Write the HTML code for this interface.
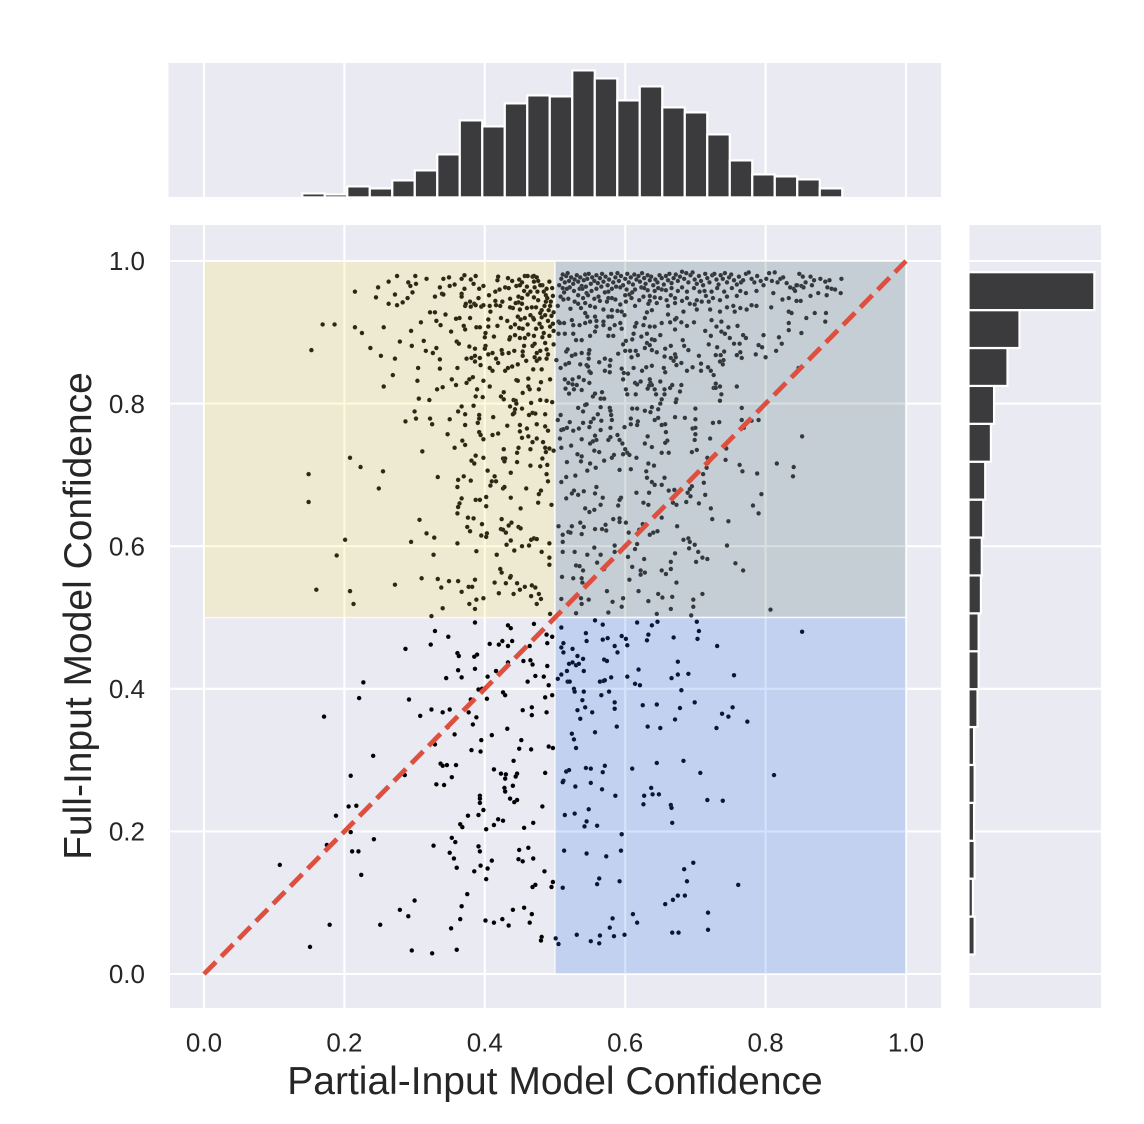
<!DOCTYPE html>
<html lang="en">
<head>
<meta charset="utf-8">
<title>Partial-Input vs Full-Input Model Confidence</title>
<style>
html,body{margin:0;padding:0;background:#fff;}
svg{display:block;font-family:"Liberation Sans",Arial,sans-serif;}
</style>
</head>
<body>
<svg id="chart" xmlns="http://www.w3.org/2000/svg" width="1144" height="1124" viewBox="0 0 1144 1124">
  <rect x="168.5" y="63" width="772.5" height="134" fill="#eaeaf2"/>
  <rect x="170" y="225" width="771" height="783" fill="#eaeaf2"/>
  <rect x="969.5" y="225" width="131.5" height="783" fill="#eaeaf2"/>
  <g id="grid"></g>
  <g id="spans"></g>
  <g id="points"></g>
  <g id="diag"></g>
  <g id="topHist"></g>
  <g id="rightHist"></g>
  <g id="ticks" font-size="26" fill="#262626"></g>
  <text x="555" y="1094" text-anchor="middle" font-size="39" fill="#262626">Partial-Input Model Confidence</text>
  <text transform="translate(91,616) rotate(-90)" text-anchor="middle" font-size="39" fill="#262626">Full-Input Model Confidence</text>
</svg>
<script>
const xTickValues = [0, 0.2, 0.4, 0.6, 0.8, 1.0];
const yTickValues = [0, 0.2, 0.4, 0.6, 0.8, 1.0];
const xTickLabels = ["0.0", "0.2", "0.4", "0.6", "0.8", "1.0"];
const yTickLabels = ["0.0", "0.2", "0.4", "0.6", "0.8", "1.0"];

const partialHistStart = 0.14;
const partialHistBinWidth = 0.03205;
const partialHistCounts = [4,3,11,9,17,27,43,77,71,94,102,101,127,119,97,111,90,85,63,37,23,21,18,9];

const fullHistStart = 0.0274;
const fullHistBinWidth = 0.05316;
// listed from lowest confidence bin to highest
const fullHistCounts = [18,12,18,16,18,16,28,32,32,40,43,48,55,75,86,133,175,437];

const lowLowPoints = [
[.386,.493],[.329,.481],[.348,.473],[.323,.462],[.287,.456],[.361,.450],[.363,.446],[.389,.448],[.385,.445],[.386,.428],[.362,.426],[.345,.415],[.367,.416],[.227,.409],[.221,.387],[.292,.385],[.324,.371],[.308,.362],[.340,.367],[.350,.371],[.377,.367],[.388,.360],[.380,.385],[.391,.399],[.396,.400],[.404,.417],[.416,.425],[.403,.386],[.407,.463],[.420,.462],[.425,.467],[.433,.460],[.439,.467],[.433,.489],[.437,.485],[.470,.491],[.488,.476],[.496,.473],[.489,.464],[.464,.460],[.433,.437],[.455,.439],[.465,.440],[.468,.434],[.489,.432],[.472,.418],[.484,.417],[.461,.410],[.491,.405],[.426,.395],[.429,.391],[.496,.391],[.486,.388],[.454,.370],[.467,.374],[.467,.363],[.488,.367],[.383,.350],[.171,.361],[.347,.346],[.357,.336],[.432,.344],[.410,.335],[.395,.328],[.452,.328],[.329,.322],[.381,.314],[.394,.312],[.449,.316],[.466,.315],[.491,.319],[.497,.317],[.441,.299],[.241,.306],[.337,.295],[.340,.292],[.346,.293],[.359,.293],[.413,.287],[.423,.281],[.430,.280],[.429,.274],[.446,.281],[.444,.277],[.486,.282],[.353,.276],[.209,.278],[.286,.279],[.331,.266],[.342,.265],[.440,.264],[.428,.261],[.429,.256],[.393,.250],[.393,.246],[.393,.240],[.436,.246],[.446,.244],[.442,.241],[.482,.235],[.206,.235],[.217,.236],[.188,.222],[.398,.230],[.376,.222],[.391,.223],[.419,.217],[.426,.215],[.413,.209],[.365,.210],[.368,.206],[.402,.203],[.456,.205],[.469,.212],[.209,.199],[.242,.189],[.175,.181],[.353,.191],[.358,.185],[.327,.180],[.391,.179],[.393,.172],[.211,.172],[.220,.172],[.350,.170],[.449,.174],[.462,.177],[.448,.161],[.454,.158],[.469,.162],[.356,.162],[.410,.159],[.108,.153],[.360,.149],[.394,.152],[.404,.148],[.385,.144],[.485,.144],[.224,.139],[.402,.133],[.497,.129],[.495,.122],[.472,.125],[.468,.122],[.375,.112],[.300,.103],[.367,.095],[.279,.090],[.291,.081],[.440,.090],[.456,.093],[.467,.084],[.365,.077],[.401,.075],[.413,.072],[.425,.077],[.464,.072],[.434,.068],[.179,.069],[.251,.069],[.352,.064],[.481,.052],[.480,.047],[.151,.038],[.296,.033],[.325,.029],[.360,.034]
];

const highPartialLowFullPoints = [
[.509,.486],[.557,.496],[.568,.490],[.617,.493],[.646,.494],[.638,.489],[.702,.494],[.705,.481],[.544,.478],[.633,.476],[.852,.480],[.545,.467],[.568,.469],[.575,.471],[.595,.474],[.601,.470],[.631,.468],[.669,.472],[.703,.470],[.512,.464],[.585,.460],[.603,.461],[.731,.460],[.509,.458],[.512,.451],[.525,.456],[.589,.451],[.532,.446],[.540,.442],[.570,.441],[.574,.439],[.675,.438],[.520,.435],[.525,.437],[.530,.433],[.534,.435],[.517,.425],[.541,.425],[.619,.427],[.509,.420],[.504,.414],[.675,.420],[.690,.421],[.755,.419],[.580,.416],[.603,.417],[.666,.415],[.518,.410],[.521,.410],[.564,.410],[.569,.411],[.571,.412],[.614,.407],[.621,.405],[.527,.400],[.528,.396],[.541,.396],[.577,.396],[.680,.398],[.566,.391],[.539,.384],[.585,.381],[.699,.381],[.625,.377],[.645,.378],[.543,.374],[.585,.372],[.678,.373],[.753,.374],[.532,.370],[.553,.367],[.738,.365],[.747,.361],[.536,.358],[.671,.357],[.774,.354],[.588,.347],[.632,.347],[.650,.345],[.730,.345],[.557,.339],[.524,.337],[.527,.329],[.530,.317],[.683,.299],[.645,.296],[.571,.292],[.544,.289],[.551,.288],[.610,.288],[.516,.284],[.520,.286],[.568,.283],[.707,.282],[.812,.279],[.512,.271],[.511,.269],[.551,.268],[.529,.263],[.567,.259],[.637,.261],[.586,.250],[.627,.250],[.639,.252],[.648,.252],[.717,.244],[.739,.243],[.626,.238],[.665,.237],[.666,.233],[.548,.231],[.514,.223],[.528,.225],[.545,.214],[.542,.207],[.560,.208],[.667,.212],[.595,.196],[.513,.173],[.545,.169],[.573,.165],[.594,.173],[.697,.156],[.684,.147],[.563,.134],[.560,.126],[.592,.130],[.688,.130],[.761,.125],[.511,.121],[.675,.110],[.685,.110],[.668,.104],[.657,.098],[.718,.086],[.611,.084],[.582,.078],[.617,.072],[.578,.065],[.667,.058],[.676,.058],[.718,.062],[.531,.055],[.564,.054],[.584,.053],[.599,.055],[.551,.046],[.563,.043],[.501,.050],[.505,.042]
];

const lowPartialHighFullPoints = [
[.153,.875],[.237,.878],[.279,.887],[.296,.881],[.313,.888],[.316,.874],[.326,.871],[.331,.878],[.252,.867],[.272,.863],[.336,.862],[.305,.850],[.336,.849],[.361,.850],[.269,.840],[.304,.832],[.256,.824],[.332,.820],[.340,.823],[.353,.834],[.359,.826],[.374,.829],[.378,.834],[.383,.837],[.398,.832],[.407,.824],[.389,.820],[.387,.810],[.397,.809],[.306,.807],[.321,.805],[.360,.887],[.363,.884],[.378,.880],[.386,.877],[.401,.881],[.400,.877],[.405,.869],[.411,.871],[.374,.863],[.381,.864],[.386,.867],[.393,.864],[.386,.859],[.394,.854],[.416,.863],[.419,.857],[.407,.850],[.411,.846],[.424,.875],[.425,.870],[.434,.871],[.442,.874],[.429,.846],[.433,.850],[.439,.852],[.447,.855],[.445,.833],[.447,.832],[.454,.815],[.462,.835],[.462,.824],[.464,.820],[.477,.820],[.480,.830],[.493,.834],[.469,.848],[.481,.848],[.454,.867],[.459,.860],[.454,.873],[.456,.881],[.468,.881],[.471,.884],[.471,.865],[.474,.860],[.478,.863],[.479,.874],[.474,.871],[.488,.863],[.490,.869],[.488,.876],[.486,.885],[.498,.883],[.427,.816],[.423,.810],[.427,.806],[.441,.805],[.444,.804],[.445,.800],[.466,.801],[.479,.805],[.488,.804],[.496,.802],[.367,.796],[.384,.797],[.436,.796],[.443,.792],[.453,.793],[.362,.789],[.372,.785],[.300,.789],[.302,.779],[.287,.775],[.322,.779],[.325,.771],[.350,.778],[.392,.784],[.392,.779],[.390,.773],[.412,.781],[.442,.787],[.440,.785],[.463,.784],[.468,.787],[.472,.786],[.486,.785],[.372,.770],[.432,.769],[.450,.770],[.474,.771],[.486,.768],[.460,.765],[.450,.761],[.490,.762],[.347,.757],[.392,.760],[.394,.756],[.411,.756],[.419,.758],[.453,.752],[.462,.754],[.398,.750],[.368,.748],[.372,.742],[.468,.746],[.474,.751],[.483,.746],[.357,.738],[.311,.733],[.427,.736],[.448,.738],[.446,.731],[.465,.736],[.486,.738],[.492,.737],[.487,.732],[.498,.734],[.387,.727],[.398,.724],[.381,.720],[.385,.716],[.208,.724],[.223,.711],[.426,.723],[.429,.723],[.428,.719],[.446,.718],[.482,.723],[.465,.713],[.479,.712],[.489,.714],[.255,.705],[.404,.706],[.437,.703],[.149,.701],[.333,.697],[.370,.698],[.362,.693],[.380,.692],[.414,.698],[.410,.691],[.416,.691],[.488,.701],[.490,.691],[.361,.683],[.408,.685],[.249,.681],[.426,.681],[.428,.683],[.459,.681],[.480,.678],[.477,.673],[.437,.668],[.367,.667],[.387,.665],[.393,.665],[.402,.669],[.149,.662],[.364,.660],[.362,.655],[.476,.661],[.495,.658],[.402,.656],[.451,.653],[.361,.646],[.376,.640],[.384,.639],[.307,.637],[.424,.638],[.438,.633],[.434,.629],[.396,.631],[.448,.627],[.451,.625],[.375,.627],[.379,.621],[.423,.624],[.426,.623],[.430,.619],[.317,.618],[.328,.612],[.395,.615],[.403,.618],[.402,.613],[.295,.606],[.201,.609],[.361,.604],[.437,.608],[.466,.609],[.470,.611],[.474,.610],[.492,.604],[.431,.602],[.453,.600],[.463,.601],[.388,.593],[.442,.594],[.481,.592],[.189,.587],[.327,.588],[.417,.588],[.492,.584],[.492,.574],[.422,.568],[.424,.563],[.437,.558],[.436,.556],[.310,.555],[.333,.554],[.349,.551],[.362,.551],[.386,.553],[.414,.549],[.430,.548],[.446,.548],[.338,.542],[.272,.546],[.377,.543],[.382,.543],[.457,.543],[.467,.545],[.472,.542],[.160,.539],[.208,.537],[.367,.536],[.450,.539],[.420,.534],[.441,.533],[.477,.533],[.466,.530],[.398,.527],[.388,.525],[.480,.526],[.213,.519],[.378,.519],[.474,.519],[.340,.513],[.386,.512],[.493,.505],[.324,.502],
[.275,.979],[.301,.979],[.263,.971],[.291,.970],[.294,.965],[.302,.968],[.317,.975],[.341,.975],[.349,.977],[.248,.963],[.215,.957],[.272,.953],[.245,.949],[.297,.956],[.290,.948],[.283,.942],[.275,.938],[.263,.940],[.329,.950],[.336,.963],[.339,.954],[.341,.953],[.350,.965],[.357,.967],[.367,.975],[.371,.980],[.380,.974],[.387,.979],[.384,.968],[.371,.961],[.367,.954],[.367,.950],[.392,.961],[.398,.965],[.391,.948],[.406,.952],[.415,.957],[.421,.960],[.429,.963],[.434,.962],[.418,.973],[.419,.978],[.433,.976],[.439,.972],[.449,.974],[.453,.970],[.445,.965],[.450,.966],[.457,.979],[.461,.979],[.468,.978],[.470,.979],[.474,.977],[.476,.972],[.470,.971],[.460,.964],[.471,.963],[.482,.966],[.484,.957],[.487,.952],[.448,.950],[.453,.948],[.456,.958],[.465,.957],[.461,.953],[.475,.957],[.470,.949],[.476,.945],[.448,.942],[.444,.941],[.436,.947],[.453,.940],[.450,.932],[.440,.934],[.436,.935],[.425,.943],[.415,.944],[.416,.938],[.422,.937],[.407,.937],[.408,.929],[.372,.937],[.379,.943],[.373,.940],[.385,.940],[.380,.936],[.387,.938],[.395,.936],[.398,.938],[.460,.934],[.467,.935],[.473,.935],[.485,.937],[.487,.943],[.494,.943],[.481,.931],[.491,.931],[.479,.927],[.465,.924],[.447,.922],[.457,.920],[.469,.920],[.451,.918],[.432,.916],[.423,.920],[.470,.918],[.481,.921],[.495,.923],[.405,.918],[.379,.920],[.364,.920],[.359,.919],[.344,.925],[.322,.928],[.329,.928],[.309,.914],[.331,.916],[.337,.910],[.388,.907],[.393,.907],[.370,.909],[.372,.904],[.352,.901],[.405,.908],[.418,.909],[.437,.907],[.449,.906],[.473,.905],[.481,.907],[.493,.908],[.215,.907],[.225,.899],[.256,.907],[.295,.902],[.169,.911],[.186,.911],[.401,.899],[.400,.893],[.413,.894],[.436,.893],[.443,.896],[.450,.892],[.457,.892],[.462,.897],[.470,.895],[.482,.893],[.435,.890],
[.492,.971],[.496,.962],[.489,.948],[.497,.951],[.479,.966],[.488,.961],[.493,.937],[.498,.928],[.486,.924],[.490,.916],[.497,.912],[.478,.912],[.484,.899],[.492,.895],[.498,.902],[.461,.911],[.454,.905],[.443,.911]
];

const highHighPoints = [
[.516,.873],[.502,.861],[.508,.850],[.515,.855],[.520,.857],[.524,.867],[.529,.869],[.518,.876],[.538,.871],[.549,.875],[.548,.870],[.548,.863],[.563,.858],[.571,.863],[.579,.861],[.578,.853],[.571,.846],[.578,.844],[.536,.855],[.545,.854],[.547,.852],[.549,.845],[.551,.843],[.514,.834],[.519,.829],[.525,.834],[.534,.837],[.541,.833],[.549,.829],[.531,.826],[.525,.827],[.515,.821],[.520,.814],[.527,.820],[.538,.819],[.554,.810],[.557,.814],[.567,.816],[.565,.807],[.570,.807],[.590,.870],[.597,.883],[.600,.874],[.609,.865],[.607,.874],[.615,.874],[.618,.868],[.628,.878],[.631,.885],[.635,.882],[.638,.875],[.645,.872],[.657,.877],[.665,.881],[.656,.866],[.665,.864],[.671,.869],[.672,.865],[.669,.860],[.673,.854],[.680,.857],[.684,.881],[.690,.875],[.705,.867],[.696,.851],[.688,.846],[.708,.856],[.708,.846],[.718,.851],[.722,.846],[.726,.840],[.719,.883],[.731,.879],[.729,.868],[.736,.868],[.741,.873],[.740,.861],[.735,.859],[.739,.855],[.755,.884],[.763,.884],[.759,.868],[.764,.872],[.766,.864],[.786,.869],[.790,.882],[.795,.879],[.800,.865],[.815,.874],[.823,.884],[.847,.850],[.595,.849],[.598,.843],[.604,.842],[.612,.850],[.624,.846],[.630,.851],[.638,.853],[.655,.850],[.657,.844],[.597,.834],[.614,.829],[.617,.827],[.622,.831],[.635,.834],[.636,.829],[.650,.831],[.638,.826],[.634,.825],[.632,.821],[.601,.820],[.603,.813],[.615,.813],[.642,.820],[.644,.813],[.656,.820],[.664,.822],[.667,.826],[.680,.826],[.678,.817],[.656,.813],[.652,.806],[.673,.806],[.672,.802],[.650,.800],[.729,.828],[.726,.822],[.729,.822],[.735,.824],[.759,.824],[.737,.813],[.735,.804],[.533,.794],[.543,.798],[.545,.799],[.540,.789],[.561,.785],[.565,.795],[.578,.794],[.579,.790],[.580,.784],[.581,.777],[.610,.793],[.617,.793],[.628,.790],[.638,.795],[.647,.792],[.636,.788],[.647,.780],[.642,.777],[.671,.781],[.685,.780],[.700,.793],[.700,.778],[.508,.784],[.504,.777],[.521,.774],[.540,.773],[.551,.774],[.555,.779],[.566,.776],[.608,.779],[.608,.771],[.618,.775],[.617,.770],[.652,.770],[.657,.771],[.725,.773],[.734,.774],[.766,.794],[.766,.777],[.780,.776],[.790,.777],[.769,.766],[.852,.754],[.509,.763],[.512,.764],[.517,.766],[.526,.762],[.534,.765],[.549,.767],[.565,.763],[.579,.766],[.599,.767],[.696,.765],[.700,.766],[.658,.760],[.700,.757],[.557,.755],[.507,.751],[.538,.750],[.579,.753],[.589,.756],[.576,.749],[.559,.749],[.554,.747],[.550,.744],[.632,.754],[.592,.749],[.699,.749],[.721,.751],[.660,.748],[.657,.745],[.628,.744],[.638,.739],[.523,.741],[.509,.738],[.596,.744],[.744,.737],[.556,.734],[.563,.732],[.600,.736],[.603,.731],[.606,.728],[.702,.735],[.695,.732],[.652,.731],[.662,.731],[.532,.729],[.538,.726],[.584,.728],[.581,.724],[.597,.729],[.616,.724],[.570,.720],[.517,.718],[.537,.719],[.550,.716],[.717,.724],[.718,.717],[.743,.721],[.633,.716],[.641,.713],[.763,.714],[.816,.716],[.840,.711],[.558,.710],[.546,.706],[.592,.707],[.608,.708],[.630,.705],[.716,.710],[.767,.705],[.788,.702],[.839,.698],[.529,.699],[.516,.697],[.711,.701],[.631,.696],[.656,.696],[.509,.690],[.638,.690],[.642,.686],[.652,.686],[.712,.689],[.559,.683],[.527,.678],[.524,.674],[.541,.677],[.533,.672],[.557,.674],[.662,.678],[.670,.679],[.695,.684],[.692,.680],[.689,.675],[.693,.670],[.616,.675],[.634,.675],[.714,.672],[.794,.673],[.516,.667],[.568,.668],[.594,.668],[.592,.665],[.668,.661],[.687,.662],[.626,.661],[.633,.658],[.673,.658],[.705,.660],[.565,.658],[.590,.657],[.543,.653],[.556,.651],[.549,.648],[.722,.653],[.782,.657],[.790,.646],[.724,.638],[.747,.635],[.583,.638],[.592,.639],[.592,.634],[.601,.633],[.652,.640],[.536,.633],[.541,.627],[.505,.628],[.524,.628],[.572,.630],[.557,.624],[.567,.624],[.573,.622],[.511,.616],[.519,.620],[.522,.619],[.538,.617],[.605,.619],[.625,.631],[.620,.623],[.635,.616],[.640,.619],[.646,.621],[.674,.628],[.683,.609],[.690,.611],[.692,.606],[.699,.602],[.691,.597],[.745,.601],[.511,.606],[.556,.598],[.617,.603],[.585,.601],[.614,.596],[.511,.592],[.528,.592],[.546,.588],[.565,.588],[.585,.592],[.671,.590],[.704,.592],[.604,.585],[.710,.584],[.717,.582],[.627,.582],[.560,.577],[.665,.578],[.701,.578],[.757,.576],[.530,.573],[.535,.572],[.610,.571],[.540,.566],[.570,.568],[.622,.566],[.628,.563],[.622,.560],[.652,.566],[.665,.568],[.658,.561],[.768,.566],[.510,.557],[.526,.555],[.538,.555],[.539,.549],[.606,.553],[.673,.549],[.545,.546],[.574,.537],[.619,.537],[.710,.533],[.647,.533],[.653,.528],[.667,.529],[.537,.527],[.509,.526],[.548,.525],[.597,.527],[.697,.525],[.633,.523],[.582,.522],[.538,.519],[.595,.515],[.697,.515],[.665,.512],[.807,.511],[.530,.506],[.576,.507],[.645,.505],[.694,.503],
[.506,.966],[.509,.975],[.511,.981],[.514,.970],[.516,.979],[.518,.983],[.520,.972],[.523,.977],[.526,.968],[.528,.974],[.531,.980],[.533,.971],[.536,.977],[.538,.965],[.541,.973],[.543,.981],[.546,.975],[.548,.982],[.551,.968],[.553,.977],[.556,.972],[.559,.980],[.561,.969],[.564,.976],[.567,.982],[.569,.971],[.572,.978],[.575,.966],[.577,.974],[.580,.982],[.583,.970],[.586,.977],[.589,.983],[.591,.972],[.594,.979],[.597,.966],[.600,.975],[.603,.982],[.605,.970],[.608,.977],[.611,.967],[.613,.981],[.616,.974],[.619,.979],[.621,.971],[.624,.983],[.627,.976],[.629,.968],[.632,.980],[.635,.973],[.637,.978],[.640,.966],[.643,.974],[.646,.970],[.649,.980],[.652,.976],[.655,.967],[.658,.979],[.661,.973],[.663,.982],[.666,.969],[.669,.976],[.672,.981],[.675,.972],[.678,.978],[.681,.985],[.684,.975],[.687,.983],[.690,.970],[.693,.980],[.696,.984],[.699,.974],[.702,.968],[.705,.979],[.708,.972],[.711,.966],[.714,.982],[.717,.976],[.720,.970],[.724,.980],[.727,.982],[.730,.974],[.733,.967],[.736,.980],[.739,.975],[.742,.983],[.745,.970],[.748,.977],[.751,.981],[.755,.973],[.759,.967],[.762,.978],[.765,.970],[.768,.973],[.772,.982],[.776,.984],[.780,.975],[.784,.970],[.788,.979],[.793,.972],[.797,.966],[.801,.975],[.805,.983],[.809,.972],[.813,.984],[.817,.970],[.821,.975],[.825,.977],[.830,.969],[.848,.982],[.853,.978],[.857,.970],[.851,.965],[.864,.978],[.869,.973],[.878,.975],[.885,.971],[.891,.973],[.908,.975],[.840,.961],[.845,.966],
[.511,.962],[.513,.956],[.521,.963],[.535,.961],[.539,.961],[.559,.961],[.566,.964],[.576,.957],[.581,.961],[.593,.963],[.600,.952],[.606,.953],[.602,.960],[.614,.960],[.623,.963],[.632,.959],[.642,.958],[.652,.960],[.658,.959],[.666,.962],[.688,.957],[.698,.962],[.723,.957],[.741,.957],[.752,.962],[.764,.958],[.772,.955],[.787,.958],[.811,.955],[.835,.963],[.844,.966],[.842,.958],[.854,.963],[.866,.966],[.888,.963],[.894,.961],[.899,.960],[.907,.955],
[.508,.950],[.512,.946],[.533,.952],[.545,.955],[.547,.952],[.528,.943],[.533,.940],[.543,.941],[.550,.937],[.562,.950],[.564,.944],[.576,.948],[.581,.948],[.574,.943],[.593,.939],[.609,.948],[.614,.937],[.635,.951],[.642,.949],[.635,.944],[.650,.948],[.645,.941],[.633,.940],[.659,.945],[.671,.948],[.661,.937],[.671,.941],[.688,.948],[.702,.945],[.692,.940],[.699,.939],[.709,.943],[.719,.943],[.725,.948],[.745,.950],[.759,.951],[.745,.935],[.754,.937],[.780,.938],[.787,.937],[.824,.946],[.833,.948],[.844,.944],[.850,.944],[.864,.951],[.875,.955],[.887,.952],[.808,.935],
[.504,.937],[.522,.933],[.537,.934],[.543,.927],[.546,.922],[.557,.935],[.569,.932],[.581,.931],[.589,.930],[.595,.929],[.576,.922],[.581,.922],[.557,.922],[.559,.916],[.599,.924],[.631,.928],[.628,.920],[.638,.931],[.661,.925],[.673,.920],[.683,.929],[.702,.932],[.721,.932],[.735,.929],[.756,.929],[.764,.934],[.773,.932],[.833,.929],[.837,.927],[.870,.927],[.886,.927],[.858,.920],
[.505,.915],[.507,.913],[.513,.913],[.524,.917],[.526,.910],[.535,.910],[.543,.913],[.550,.915],[.559,.908],[.569,.915],[.569,.910],[.578,.905],[.585,.910],[.593,.913],[.595,.905],[.614,.908],[.616,.913],[.626,.910],[.635,.908],[.642,.908],[.652,.913],[.664,.914],[.671,.918],[.671,.904],[.680,.914],[.688,.909],[.698,.914],[.723,.917],[.730,.908],[.737,.915],[.747,.907],[.760,.909],[.833,.913],[.885,.915],[.833,.903],
[.505,.898],[.514,.898],[.526,.898],[.550,.895],[.557,.901],[.576,.895],[.583,.895],[.612,.898],[.623,.894],[.631,.898],[.650,.896],[.638,.890],[.642,.889],[.682,.889],[.714,.902],[.722,.895],[.737,.901],[.742,.898],[.749,.892],[.768,.896],[.772,.892],[.797,.896],[.819,.893],[.851,.899],[.530,.889],[.538,.889],[.601,.888],[.610,.890],
[.517,.961],[.527,.958],[.544,.964],[.552,.958],[.571,.956],[.587,.964],[.610,.956],[.627,.962],[.647,.962],[.675,.958],[.681,.963],[.706,.957],[.713,.958],[.731,.962],[.519,.947],[.540,.948],[.556,.947],[.586,.946],[.601,.943],[.620,.945],[.626,.950],[.665,.952],[.681,.944],[.715,.951],[.735,.945]
];

const NS = 'http://www.w3.org/2000/svg';
const xScale = v => 204 + 702 * v;
const yScale = v => 974 - 713 * v;
const topCountScale = c => 197.4 - c;
const rightCountScale = c => 969.5 + c / 3.5;

function make(parent, tag, attrs) {
  const el = document.createElementNS(NS, tag);
  for (const k in attrs) el.setAttribute(k, attrs[k]);
  parent.appendChild(el);
  return el;
}

const gridG = document.getElementById('grid');
xTickValues.forEach(v => {
  const a = make(gridG, 'line', {x1: xScale(v), x2: xScale(v), y1: 225, y2: 1008, stroke: '#fff', 'stroke-width': 2.1});
  
  
  const b = make(gridG, 'line', {x1: xScale(v), x2: xScale(v), y1: 63, y2: 197, stroke: '#fff', 'stroke-width': 2.1});
  
  
});
yTickValues.forEach(v => {
  const a = make(gridG, 'line', {x1: 170, x2: 941, y1: yScale(v), y2: yScale(v), stroke: '#fff', 'stroke-width': 2.1});
  
  
  const b = make(gridG, 'line', {x1: 969.5, x2: 1101, y1: yScale(v), y2: yScale(v), stroke: '#fff', 'stroke-width': 2.1});
  
  
});

const spansG = document.getElementById('spans');
function drawSpan(x0, x1, y0, y1, fill, name) {
  const r = make(spansG, 'rect', {x: xScale(x0), y: yScale(y1), width: xScale(x1) - xScale(x0), height: yScale(y0) - yScale(y1), fill: fill, 'fill-opacity': 0.2, stroke: '#fff', 'stroke-opacity': 0.7, 'stroke-width': 1.5});
  
  
}
drawSpan(0, 0.5, 0.5, 1, '#fee552', 'region-low-partial-high-full');
drawSpan(0.5, 1, 0.5, 1, '#365e66', 'region-high-partial-high-full');
drawSpan(0.5, 1, 0, 0.5, '#276df2', 'region-high-partial-low-full');

const pointsG = document.getElementById('points');
function drawPoints(list, fill, name) {
  list.forEach(p => {
    const c = make(pointsG, 'circle', {cx: xScale(p[0]), cy: yScale(p[1]), r: 2.25, fill: fill, stroke: '#fff', 'stroke-opacity': 0.25, 'stroke-width': 0.4});
    
    
  });
}
drawPoints(lowLowPoints, '#000000', 'point-low-low');
drawPoints(highPartialLowFullPoints, '#0a1438', 'point-high-partial-low-full');
drawPoints(lowPartialHighFullPoints, '#2c2710', 'point-low-partial-high-full');
drawPoints(highHighPoints, '#33383c', 'point-high-high');

const diagLine = make(document.getElementById('diag'), 'line', {x1: xScale(0), y1: yScale(0), x2: xScale(1), y2: yScale(1), stroke: '#dd4f3f', 'stroke-width': 4.8, 'stroke-dasharray': '17 7.62'});



const topHistG = document.getElementById('topHist');
partialHistCounts.forEach((c, i) => {
  const e0 = partialHistStart + i * partialHistBinWidth;
  const e1 = e0 + partialHistBinWidth;
  const r = make(topHistG, 'rect', {x: xScale(e0), y: topCountScale(c), width: xScale(e1) - xScale(e0), height: topCountScale(0) - topCountScale(c), fill: '#333335', 'fill-opacity': 0.96, stroke: '#fff', 'stroke-width': 2.2});
  
  
});

const rightHistG = document.getElementById('rightHist');
fullHistCounts.forEach((c, i) => {
  const e0 = fullHistStart + i * fullHistBinWidth;
  const e1 = e0 + fullHistBinWidth;
  const r = make(rightHistG, 'rect', {x: rightCountScale(0) - 1, y: yScale(e1), width: rightCountScale(c) - rightCountScale(0) + 1, height: yScale(e0) - yScale(e1), fill: '#333335', 'fill-opacity': 0.96, stroke: '#fff', 'stroke-width': 2.2});
  
  
});

const ticksG = document.getElementById('ticks');
xTickValues.forEach((v, i) => {
  const t = make(ticksG, 'text', {x: xScale(v), y: 1051.7, 'text-anchor': 'middle'});
  t.textContent = xTickLabels[i];
  
  
});
yTickValues.forEach((v, i) => {
  const t = make(ticksG, 'text', {x: 145, y: yScale(v) + 9.2, 'text-anchor': 'end'});
  t.textContent = yTickLabels[i];
  
  
});
</script>
</body>
</html>
